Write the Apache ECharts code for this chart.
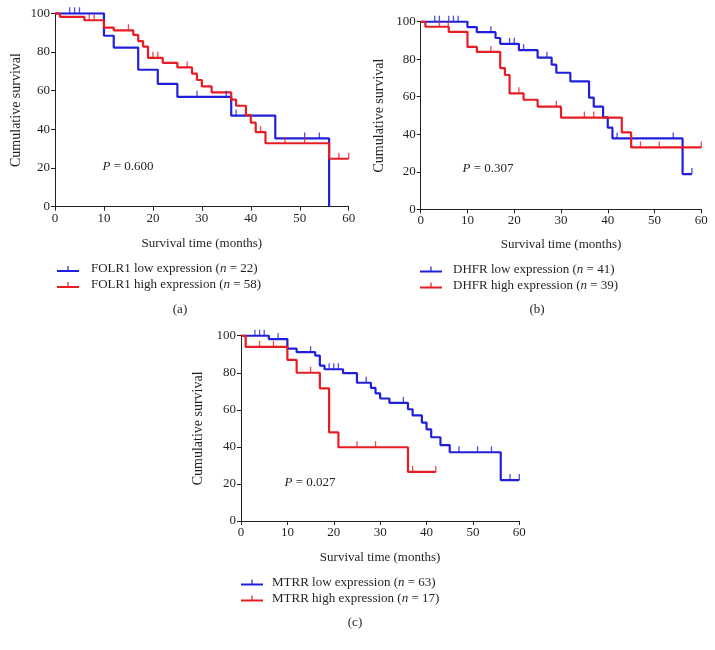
<!DOCTYPE html>
<html><head><meta charset="utf-8">
<script src="https://cdn.jsdelivr.net/npm/echarts@6/dist/echarts.min.js"></script>
<style>html,body{margin:0;padding:0;background:#fff}#c{width:715px;height:650px}</style>
</head><body><div id="c"></div>
<script>
// ---- Panel (a): FOLR1 ----
const folr1LowT  = [0, 10, 12, 17, 21, 25, 36, 45, 56];
const folr1LowS  = [100, 88.4, 82.3, 70.8, 63.5, 56.8, 47.1, 35.3, 0];
const folr1LowCens = [3, 4, 5, 29, 35, 37, 51, 54];
const folr1HighT = [0, 1, 6, 10, 12, 16, 17, 18, 19, 22, 25, 28, 29, 30, 32, 36, 37, 39, 40, 41, 43, 56, 60];
const folr1HighS = [100, 98.2, 96.4, 92.6, 91.2, 88.8, 85.6, 82.8, 77.0, 74.4, 72.0, 68.8, 65.5, 62.2, 59.1, 55.4, 52.2, 47.4, 43.5, 38.6, 32.8, 24.8, 24.8];
const folr1HighCens = [7, 8, 15, 20, 21, 27, 42, 47, 51, 58, 60];
// ---- Panel (b): DHFR ----
const dhfrLowT  = [0, 10, 12, 16, 17, 21, 25, 28, 29, 32, 36, 37, 39, 40, 41, 56, 58];
const dhfrLowS  = [100, 97.1, 94.4, 91.3, 88.2, 84.8, 80.8, 77.1, 72.8, 68.2, 59.5, 54.7, 49.0, 43.5, 37.8, 18.8, 18.8];
const dhfrLowCens = [3, 4, 6, 7, 8, 15, 19, 20, 22, 27, 42, 54, 58];
const dhfrHighT = [0, 1, 6, 10, 12, 17, 18, 19, 22, 25, 30, 43, 45, 60];
const dhfrHighS = [100, 97.3, 94.6, 86.6, 83.9, 75.3, 71.6, 61.8, 58.4, 54.7, 48.9, 41.0, 33.0, 33.0];
const dhfrHighCens = [4, 5.9, 15, 21, 29, 35, 37, 47, 51, 60];
// ---- Panel (c): MTRR ----
const mtrrLowT  = [0, 6, 10, 12, 16, 17, 18, 22, 25, 28, 29, 30, 32, 36, 37, 39, 40, 41, 43, 45, 56, 60];
const mtrrLowS  = [100, 98.2, 93.0, 91.1, 89.3, 83.9, 81.9, 79.8, 74.6, 71.8, 68.9, 66.1, 63.7, 60.3, 57.0, 53.1, 49.5, 45.2, 41.0, 37.1, 22.1, 22.1];
const mtrrLowCens = [3, 4, 5, 8, 15, 19, 20, 21, 27, 35, 47, 51, 54, 58, 60];
const mtrrHighT = [0, 1, 10, 12, 17, 19, 21, 36, 42];
const mtrrHighS = [100, 94.0, 86.9, 80.0, 71.6, 47.8, 39.8, 26.5, 26.5];
const mtrrHighCens = [4, 7, 15, 25, 29, 37, 42];

const legendA = ['FOLR1 low expression', 'FOLR1 high expression'], nA = [22, 58];
const legendB = ['DHFR low expression', 'DHFR high expression'], nB = [41, 39];
const legendC = ['MTRR low expression', 'MTRR high expression'], nC = [63, 17];
const pValues = ['0.600', '0.307', '0.027'];
const panelLabels = ['(a)', '(b)', '(c)'];
const xTicks = {min: 0, max: 60, interval: 10};
const yTicks = {min: 0, max: 100, interval: 20};

const BLUE = '#2020dc', RED = '#e81c23', INK = '#231f20';
const FONT = 'Liberation Serif';

function survAt(T, S, t) { let v = S[0]; for (let i = 0; i < T.length; i++) if (T[i] <= t) v = S[i]; return v; }
function name(lbl, n) { return lbl + ' (n = ' + n + ')'; }

const grids = [
  {left: 55, top: 13.3, width: 293.7, height: 193.4},
  {left: 420.7, top: 21.7, width: 280.6, height: 187.6},
  {left: 241, top: 335.7, width: 278.3, height: 185.3}
];
const xNameGap = [30, 29, 30];
const yNameGap = [32, 34, 36];

const xAxis = grids.map((g, i) => ({
  gridIndex: i, type: 'value', min: xTicks.min, max: xTicks.max, interval: xTicks.interval,
  name: 'Survival time (months)', nameLocation: 'middle', nameGap: xNameGap[i],
  nameTextStyle: {fontFamily: FONT, fontSize: 13, color: INK},
  axisLine: {show: true, lineStyle: {color: INK, width: 1}},
  axisTick: {show: true, length: 4, lineStyle: {color: INK}},
  axisLabel: {fontFamily: FONT, fontSize: 13, color: INK, margin: 5},
  splitLine: {show: false}
}));
const yAxis = grids.map((g, i) => ({
  gridIndex: i, type: 'value', min: yTicks.min, max: yTicks.max, interval: yTicks.interval,
  name: 'Cumulative survival', nameLocation: 'middle', nameGap: yNameGap[i],
  nameTextStyle: {fontFamily: FONT, fontSize: 14, color: INK},
  axisLine: {show: true, lineStyle: {color: INK, width: 1}},
  axisTick: {show: true, length: 4, lineStyle: {color: INK}},
  axisLabel: {fontFamily: FONT, fontSize: 13, color: INK, margin: 5},
  splitLine: {show: false}
}));

const curves = [
  [0, name(legendA[0], nA[0]), folr1LowT, folr1LowS, folr1LowCens, BLUE],
  [0, name(legendA[1], nA[1]), folr1HighT, folr1HighS, folr1HighCens, RED],
  [1, name(legendB[0], nB[0]), dhfrLowT, dhfrLowS, dhfrLowCens, BLUE],
  [1, name(legendB[1], nB[1]), dhfrHighT, dhfrHighS, dhfrHighCens, RED],
  [2, name(legendC[0], nC[0]), mtrrLowT, mtrrLowS, mtrrLowCens, BLUE],
  [2, name(legendC[1], nC[1]), mtrrHighT, mtrrHighS, mtrrHighCens, RED]
];
const series = [];
curves.forEach(([gi, nm, T, S, C, col]) => {
  series.push({
    type: 'line', name: nm, xAxisIndex: gi, yAxisIndex: gi, step: 'end',
    showSymbol: false, symbol: 'none', color: col,
    lineStyle: {color: col, width: 2.2}, itemStyle: {color: col},
    data: T.map((t, k) => [t, S[k]]), z: 3
  });
  series.push({
    type: 'scatter', name: nm, xAxisIndex: gi, yAxisIndex: gi,
    symbol: 'rect', symbolSize: [1.3, 6], symbolOffset: [0, -3],
    itemStyle: {color: col}, silent: true,
    data: C.map(t => [t, survAt(T, S, t)]), z: 4
  });
});

const ICON = 'path://M0,4 L22,4 L22,6 L0,6 Z M10.4,0 L11.6,0 L11.6,4 L10.4,4 Z';
function legendFor(names, left, top, gap) {
  return {
    orient: 'vertical', left: left, top: top, itemGap: 0, itemWidth: 22, itemHeight: 6,
    icon: ICON, data: names, selectedMode: false, padding: 0,
    formatter: n => '{g| }' + n.replace(/\(n = (\d+)\)/, '({i|n} = $1)'),
    textStyle: {fontFamily: FONT, fontSize: 13, color: INK, lineHeight: 16,
      rich: {g: {width: gap, fontSize: 13, fontFamily: FONT},
             i: {fontStyle: 'italic', fontFamily: FONT, fontSize: 13, color: INK}}}
  };
}
const legend = [
  legendFor([name(legendA[0], nA[0]), name(legendA[1], nA[1])], 57, 261, 7),
  legendFor([name(legendB[0], nB[0]), name(legendB[1], nB[1])], 420, 261.5, 6),
  legendFor([name(legendC[0], nC[0]), name(legendC[1], nC[1])], 241, 574.5, 4)
];

const pPos = [[102.5, 160], [462.5, 162.5], [284.5, 476.5]];
const labPos = [[180, 310], [537, 310], [355, 623]];
const graphic = [];
pPos.forEach((p, i) => graphic.push({
  type: 'text', left: p[0], top: p[1], silent: true,
  style: {text: '{i|P} = ' + pValues[i], fontFamily: FONT, fontSize: 13, fill: INK,
    rich: {i: {fontStyle: 'italic', fontFamily: FONT, fontSize: 13, fill: INK}}}
}));
labPos.forEach((p, i) => graphic.push({
  type: 'text', x: p[0], y: p[1], silent: true,
  style: {text: panelLabels[i], fontFamily: FONT, fontSize: 13, fill: INK, align: 'center', verticalAlign: 'middle'}
}));

const chart = echarts.init(document.getElementById('c'), null, {renderer: 'canvas'});
chart.setOption({
  animation: false, backgroundColor: '#fff',
  grid: grids, xAxis: xAxis, yAxis: yAxis, series: series, legend: legend, graphic: graphic
});
</script></body></html>
